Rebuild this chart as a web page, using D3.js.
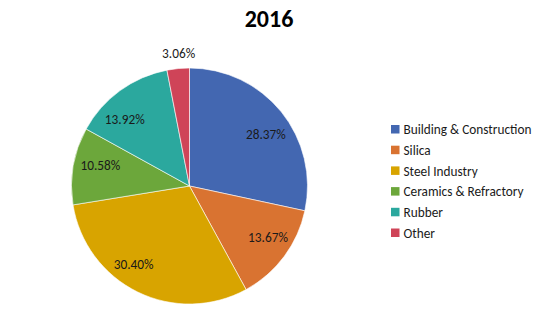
<!DOCTYPE html>
<html>
<head>
<meta charset="utf-8">
<script src="https://cdn.jsdelivr.net/npm/d3@7"></script>
<style>
  html, body { margin: 0; padding: 0; background: #fff; }
  svg { display: block; font-family: Calibri, Carlito, Lato, "Open Sans", "Liberation Sans", sans-serif; }
</style>
</head>
<body>
<svg id="chart" width="540" height="332"></svg>
<script>
// Market share by application, 2016
const categories = ["Building & Construction", "Silica", "Steel Industry", "Ceramics & Refractory", "Rubber", "Other"];
const shares = [28.37, 13.67, 30.40, 10.58, 13.92, 3.06];
const sliceColors = ["#4367B1", "#D97331", "#D8A400", "#6CA73B", "#2BA89E", "#CF4458"];
const titleText = "2016";

// Layout: small offsets (px) applied to each percentage label after centroid placement
const labelNudge = [[4, 6.5], [4, -4], [-15, -5.5], [2.5, -5], [-10, 9], [2, 0.5]];

const svg = d3.select("#chart");
const cx = 189.5, cy = 186, radius = 118;

const data = categories.map((c, i) => ({ name: c, value: shares[i], color: sliceColors[i], nudge: labelNudge[i] }));

svg.append("text")
  .attr("x", 269).attr("y", 27)
  .attr("text-anchor", "middle")
  .attr("font-size", 24).attr("font-weight", "bold")
  .attr("fill", "#000")
  .text(titleText);

const pie = d3.pie().value(d => d.value).sort(null);
const arc = d3.arc().innerRadius(0).outerRadius(radius);
const labelArc = d3.arc().innerRadius(93).outerRadius(93);
const outerLabelArc = d3.arc().innerRadius(radius + 16).outerRadius(radius + 16);

const g = svg.append("g").attr("transform", `translate(${cx},${cy})`);
const arcs = pie(data);

g.selectAll("path.slice")
  .data(arcs)
  .join("path")
  .attr("class", "slice")
  .attr("d", arc)
  .attr("fill", d => d.data.color)
  .attr("stroke", "#fff")
  .attr("stroke-width", 0.6);

g.selectAll("text.pct")
  .data(arcs)
  .join("text")
  .attr("class", "pct")
  .attr("transform", d => {
    const small = d.data.value < 5;
    const p = (small ? outerLabelArc : labelArc).centroid(d);
    return `translate(${p[0] + d.data.nudge[0]},${p[1] + d.data.nudge[1]})`;
  })
  .attr("text-anchor", "middle")
  .attr("dy", "0.35em")
  .attr("font-size", 13.3)
  .attr("fill", "#1a1a1a")
  .text(d => d.data.value.toFixed(2) + "%");

// Legend
const legendY = d3.scalePoint().domain(categories).range([129.5, 233]);
const legend = svg.append("g");
const items = legend.selectAll("g.item")
  .data(data)
  .join("g")
  .attr("class", "item")
  .attr("transform", d => `translate(391,${legendY(d.name)})`);
items.append("rect")
  .attr("x", 0).attr("y", -4.5)
  .attr("width", 8.5).attr("height", 8.5)
  .attr("fill", d => d.color);
items.append("text")
  .attr("x", 12.5).attr("y", 0)
  .attr("dy", "0.35em")
  .attr("font-size", 13.3)
  .attr("fill", "#1a1a1a")
  .text(d => d.name);
</script>
</body>
</html>
